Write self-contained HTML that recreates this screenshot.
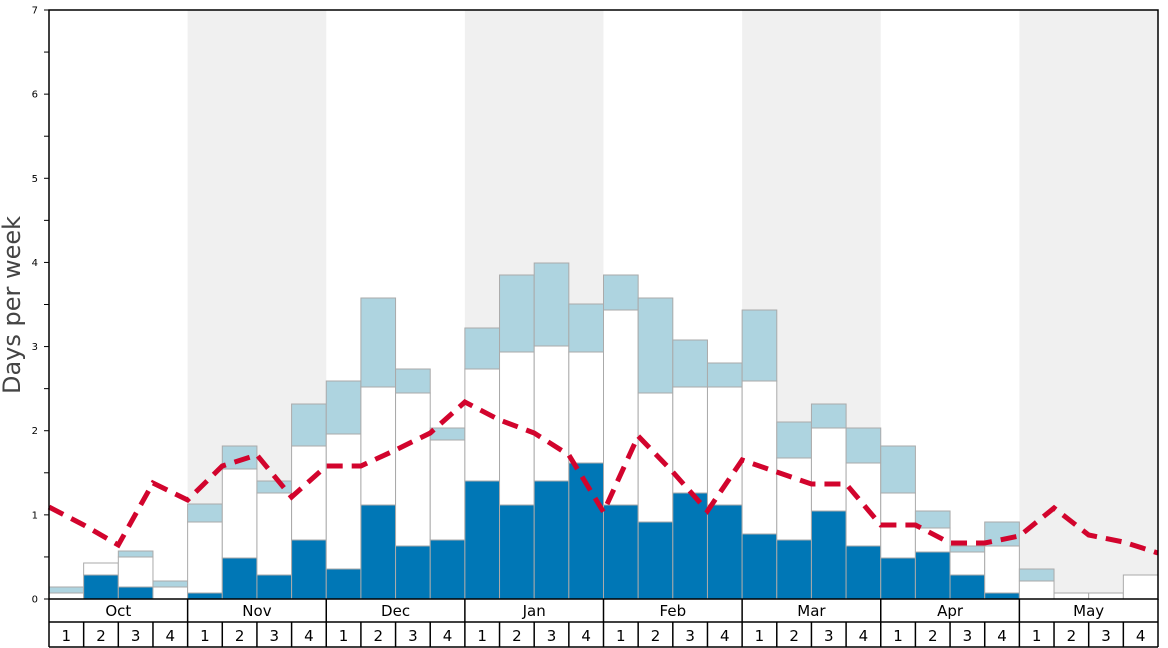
<!DOCTYPE html><html><head><style>body{margin:0;background:#fff}svg{display:block;font-family:"DejaVu Sans","Liberation Sans",sans-serif}</style></head><body>
<svg id="s" width="1168" height="648" xmlns="http://www.w3.org/2000/svg"></svg>
<script>
const s=document.getElementById('s');let h='';
const X0=49,X1=1158,Y0=599,U=589/7,W=(X1-X0)/32;
h+=`<rect x="0" y="0" width="1168" height="648" fill="#fff"/>`;
[1,3,5,7].forEach(m=>{h+=`<rect x="${X0+m*4*W}" y="10" width="${4*W}" height="589" fill="#f0f0f0"/>`});
const d=[[599,593,587],[575,563,563],[587,557,551],[599,587,581],[593,522,504],[558,469,446],[575,493,481],[540,446,404],[569,434,381],[505,387,298],[546,393,369],[540,440,428],[481,369,328],[505,352,275],[481,346,263],[463,352,304],[505,310,275],[522,393,298],[493,387,340],[505,387,363],[534,381,310],[540,458,422],[511,428,404],[546,463,428],[558,493,446],[552,528,511],[575,552,546],[593,546,522],[599,581,569],[599,593,593],[599,593,593],[599,575,575]];
d.forEach((v,i)=>{const x=X0+i*W;
if(v[2]<v[1])h+=`<rect x="${x}" y="${v[2]}" width="${W}" height="${v[1]-v[2]}" fill="#aed4e0" stroke="#aaa" stroke-width="1"/>`;
if(v[1]<v[0])h+=`<rect x="${x}" y="${v[1]}" width="${W}" height="${v[0]-v[1]}" fill="#fff" stroke="#aaa" stroke-width="1"/>`;
if(v[0]<599)h+=`<rect x="${x}" y="${v[0]}" width="${W}" height="${599-v[0]}" fill="#0077b6" stroke="#aaa" stroke-width="1"/>`;});
const ly=[507,525,545,483,500,466,455,497,466,466,450,433,402,420,433,455,512,436,472,511,460,472,484,484,525,525,543,543,536,508,535,542,553];
h+=`<polyline fill="none" stroke="#d2042d" stroke-width="5" stroke-dasharray="16,9" points="${ly.map((y,i)=>(X0+i*W)+','+y).join(' ')}"/>`;
h+=`<rect x="${X0}" y="10" width="${X1-X0}" height="589" fill="none" stroke="#000" stroke-width="1.5"/>`;
for(let k=0;k<=14;k++){const y=Y0-k*U/2;h+=`<line x1="${X0-5}" x2="${X0}" y1="${y}" y2="${y}" stroke="#000"/>`;if(k%2==0)h+=`<text x="38" y="${y+3.5}" font-size="10" text-anchor="end">${k/2}</text>`}
h+=`<text transform="translate(20,305) rotate(-90)" font-size="24" fill="#444" text-anchor="middle">Days per week</text>`;
const M=['Oct','Nov','Dec','Jan','Feb','Mar','Apr','May'];
h+=`<line x1="${X0}" x2="${X1}" y1="622" y2="622" stroke="#000" stroke-width="1.5"/><line x1="${X0}" x2="${X1}" y1="647" y2="647" stroke="#000" stroke-width="1.5"/>`;
M.forEach((m,i)=>{h+=`<text x="${X0+(i*4+2)*W}" y="616" font-size="15" text-anchor="middle">${m}</text>`});
for(let i=0;i<=32;i++){const x=X0+i*W;h+=`<line x1="${x}" x2="${x}" y1="${i%4==0?599:622}" y2="647" stroke="#000" stroke-width="1.5"/>`;if(i<32)h+=`<text x="${x+W/2}" y="641" font-size="15" text-anchor="middle">${i%4+1}</text>`}
s.innerHTML=h;
</script></body></html>
